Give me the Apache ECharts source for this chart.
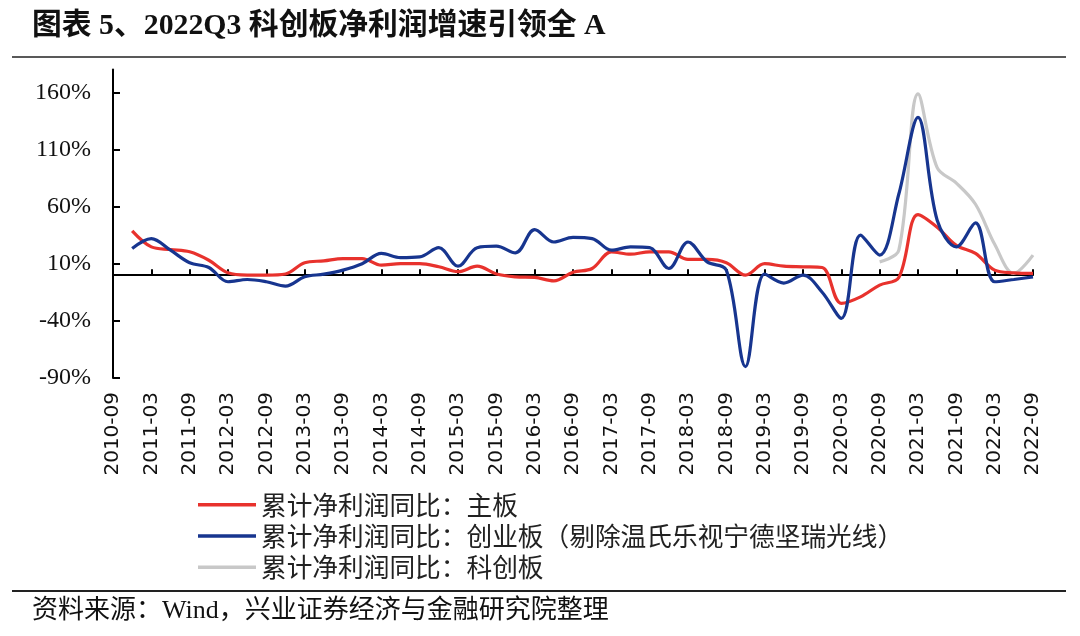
<!DOCTYPE html>
<html>
<head>
<meta charset="utf-8">
<script src="https://cdn.jsdelivr.net/npm/echarts@6/dist/echarts.min.js"></script>
<style>
html,body{margin:0;padding:0;background:#fff;}
#chart{width:1080px;height:636px;}
</style>
</head>
<body>
<div id="chart"></div>
<script>
const categories = [
  '2010-09','2010-12','2011-03','2011-06','2011-09','2011-12','2012-03','2012-06','2012-09','2012-12',
  '2013-03','2013-06','2013-09','2013-12','2014-03','2014-06','2014-09','2014-12','2015-03','2015-06',
  '2015-09','2015-12','2016-03','2016-06','2016-09','2016-12','2017-03','2017-06','2017-09','2017-12',
  '2018-03','2018-06','2018-09','2018-12','2019-03','2019-06','2019-09','2019-12','2020-03','2020-06',
  '2020-09','2020-12','2021-03','2021-06','2021-09','2021-12','2022-03','2022-06','2022-09'
];
const seriesNames = [
  '累计净利润同比：主板',
  '累计净利润同比：创业板（剔除温氏乐视宁德坚瑞光线）',
  '累计净利润同比：科创板'
];
const mainBoard = [null, 38.7, 24.7, 22.4, 20.4, 13, 2, 0, 0, 1, 10.8, 12.5, 14.5, 14.5, 8.7, 10, 10, 7.3, 3, 7.8,
  1, -1.5, -2, -5, 2.5, 5.8, 20.4, 18.3, 20.4, 20.4, 13.7, 13.7, 10.8, 0, 10, 7.8, 7.3, 6.7, -24.7, -19,
  -8.7, -2, 53, 42, 26, 19, 4.4, 2, 1.5];
const chinext = [null, 23.3, 32, 21.8, 10.8, 6.7, -5.8, -3.8, -5.8, -9.6, -1.5, 0.9, 4.4, 10, 19, 15.4, 16, 24, 7.8, 24,
  25.3, 19.5, 39.8, 29, 33, 32, 21.8, 24.7, 24, 5.8, 29, 11.6, 4.4, -80, 1, -7, 0, -15, -37.8, 35,
  17.5, 71, 138, 48, 24.7, 45.7, -5.8, -3.8, -1.5];
const star = [null, null, null, null, null, null, null, null, null, null, null, null, null, null, null, null, null, null, null, null,
  null, null, null, null, null, null, null, null, null, null, null, null, null, null, null, null, null, null, null, null,
  11.6, 21.8, 158.5, 94, 80.5, 62, 27, 1.5, 17.5];
const yTicks = [-90, -40, 10, 60, 110, 160];
const titleText = '图表 5、2022Q3 科创板净利润增速引领全 A';
const sourceText = '资料来源：Wind，兴业证券经济与金融研究院整理';

const chart = echarts.init(document.getElementById('chart'), null, {renderer: 'canvas'});
const serifCJK = '"Liberation Serif", "Noto Sans CJK SC", serif';
const option = {
  backgroundColor: '#fff',
  animation: false,
  grid: {left: 113, right: 47, top: 69.4, bottom: 258, containLabel: false},
  graphic: [
    {type: 'text', left: 32, top: 11, style: {text: titleText, font: 'bold 29.8px ' + serifCJK, fill: '#111'}},
    {type: 'line', shape: {x1: 12, y1: 57, x2: 1066, y2: 57}, style: {stroke: '#222', lineWidth: 1.5}},
    {type: 'line', shape: {x1: 12, y1: 591, x2: 1066, y2: 591}, style: {stroke: '#222', lineWidth: 2}},
    {type: 'text', left: 32, top: 598, style: {text: sourceText, font: '26px ' + serifCJK, fill: '#111'}}
  ],
  legend: {
    orient: 'vertical', left: 193, top: 487, itemGap: 5.5,
    icon: 'rect', itemWidth: 58, itemHeight: 3.5,
    textStyle: {fontSize: 25.7, lineHeight: 24, fontFamily: '"Noto Sans CJK SC", sans-serif', color: '#222'},
    data: seriesNames
  },
  xAxis: [
    {
      type: 'category', data: categories, boundaryGap: false,
      axisLine: {onZero: true, lineStyle: {color: '#000', width: 2}},
      axisTick: {show: true, inside: true, length: 6, interval: 1, lineStyle: {color: '#000', width: 2}},
      axisLabel: {show: false}, splitLine: {show: false}
    },
    {
      type: 'category', data: categories, boundaryGap: false, position: 'bottom',
      axisLine: {show: false, onZero: false}, axisTick: {show: false},
      axisLabel: {show: true, interval: 1, rotate: 90, margin: 14, fontSize: 20, fontFamily: '"DejaVu Sans", sans-serif', color: '#111'},
      splitLine: {show: false}
    }
  ],
  yAxis: {
    type: 'value', min: -90, max: 180, interval: 50,
    axisLine: {show: true, lineStyle: {color: '#000', width: 2}},
    axisTick: {show: true, inside: true, length: 7, customValues: yTicks, lineStyle: {color: '#000', width: 2}},
    axisLabel: {customValues: yTicks, margin: 22, fontSize: 24, fontFamily: '"Liberation Serif", serif', color: '#111', formatter: v => v + '%'},
    splitLine: {show: false}
  },
  series: [
    {name: seriesNames[0], type: 'line', data: mainBoard, smooth: 0.35, showSymbol: false, z: 3, color: '#E8322D', lineStyle: {width: 3.2, color: '#E8322D'}},
    {name: seriesNames[1], type: 'line', data: chinext, smooth: 0.35, showSymbol: false, z: 4, color: '#17358F', lineStyle: {width: 3.2, color: '#17358F'}},
    {name: seriesNames[2], type: 'line', data: star, smooth: 0.35, showSymbol: false, z: 2, color: '#C8C8C8', lineStyle: {width: 3.2, color: '#C8C8C8'}}
  ]
};
chart.setOption(option);
</script>
</body>
</html>
